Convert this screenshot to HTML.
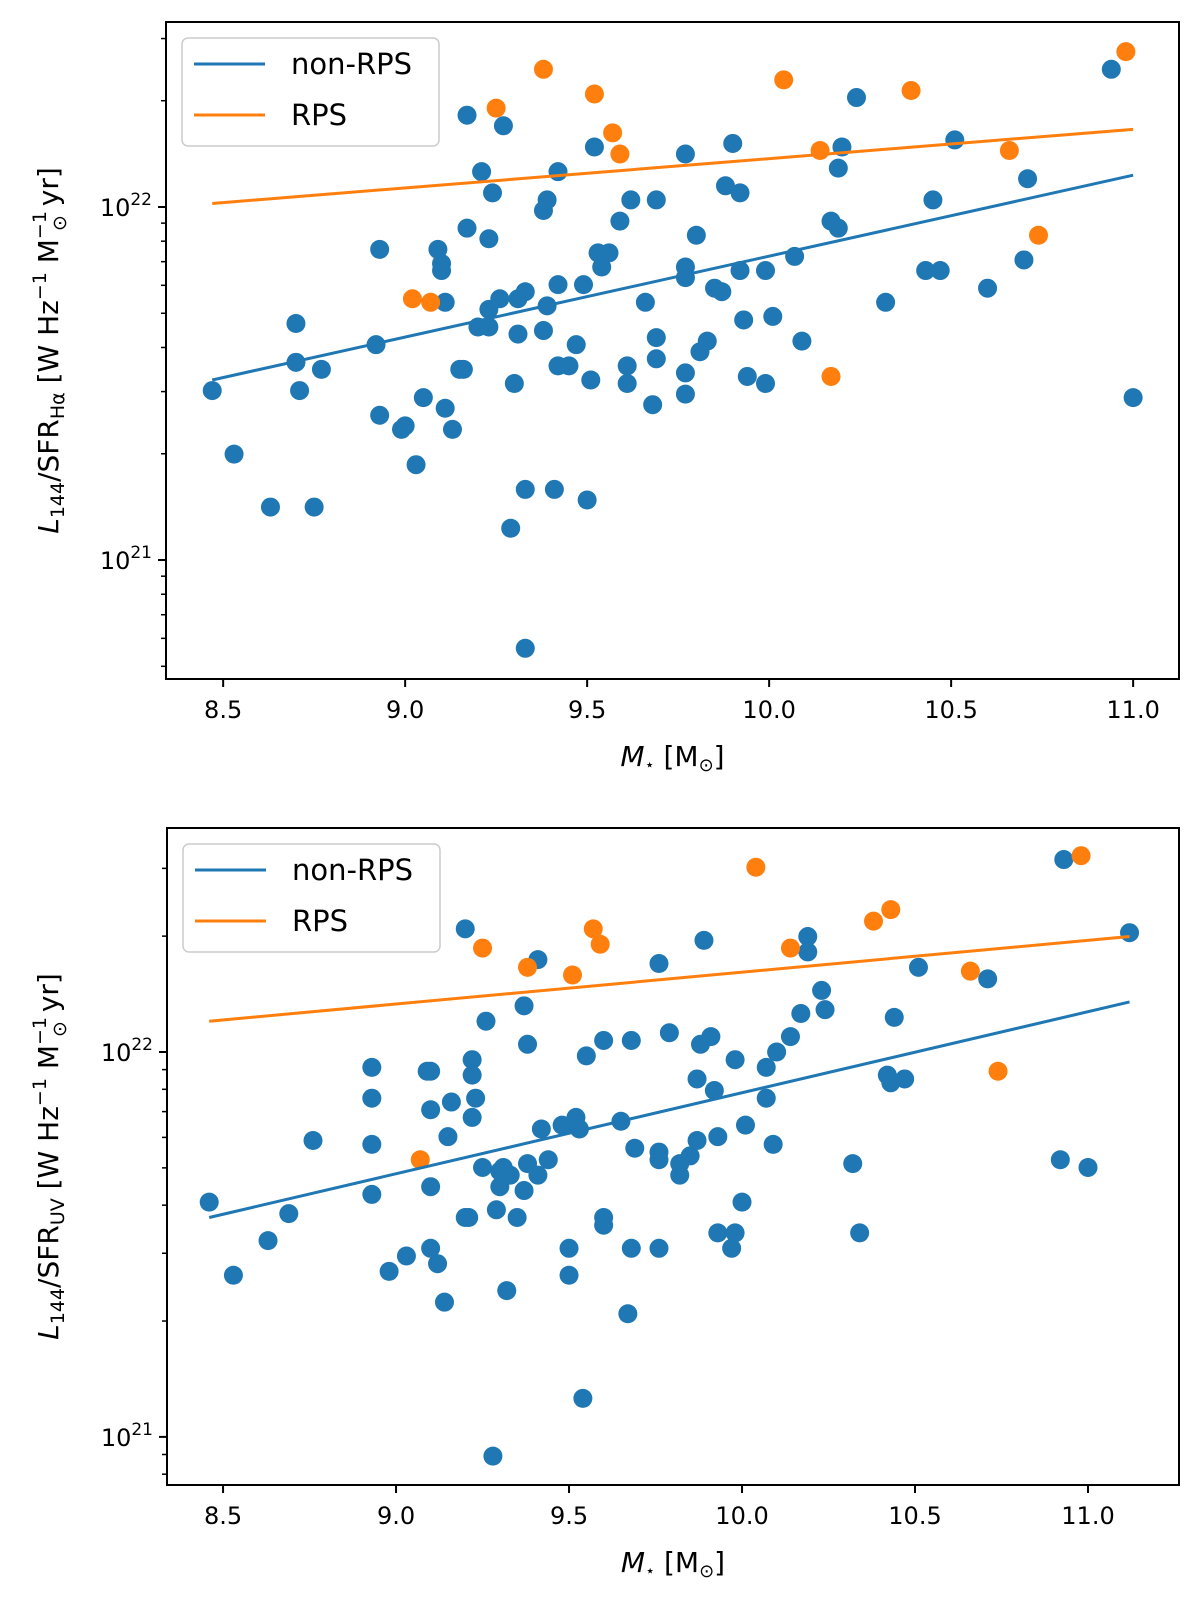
<!DOCTYPE html>
<html><head><meta charset="utf-8"><style>
html,body{margin:0;padding:0;background:#fff;}
svg text{font-family:"DejaVu Sans","Liberation Sans",sans-serif;fill:#000;}
</style></head><body>
<svg id="fig" width="1200" height="1607" viewBox="0 0 1200 1607" xmlns="http://www.w3.org/2000/svg"></svg>
<script>
// ---- Panel A (Halpha) data: stellar mass (log Msun) and log10(L144/SFR)
const aBlueMass=[8.47,8.53,8.63,8.75,8.70,8.70,8.71,8.77,8.93,8.92,8.93,8.99,9.00,9.03,9.05,9.09,9.10,9.10,9.11,9.11,9.13,9.15,9.16,9.17,9.17,9.20,9.21,9.23,9.23,9.23,9.24,9.26,9.27,9.30,9.29,9.31,9.31,9.33,9.33,9.33,9.38,9.39,9.39,9.38,9.41,9.42,9.42,9.42,9.45,9.47,9.49,9.50,9.51,9.52,9.53,9.54,9.56,9.59,9.61,9.61,9.62,9.66,9.68,9.69,9.69,9.69,9.77,9.77,9.77,9.77,9.77,9.80,9.81,9.83,9.85,9.87,9.88,9.90,9.92,9.92,9.93,9.94,9.99,9.99,10.01,10.07,10.09,10.17,10.19,10.19,10.20,10.24,10.32,10.43,10.45,10.47,10.51,10.60,10.70,10.71,10.94,11.00];
const aBlueLog=[21.48,21.30,21.15,21.15,21.67,21.56,21.48,21.54,21.88,21.61,21.41,21.37,21.38,21.27,21.46,21.88,21.84,21.82,21.73,21.43,21.37,21.54,21.54,22.26,21.94,21.66,22.10,21.91,21.71,21.66,22.04,21.74,22.23,21.50,21.09,21.64,21.74,21.76,20.75,21.20,21.99,22.02,21.72,21.65,21.20,22.10,21.78,21.55,21.55,21.61,21.78,21.17,21.51,22.17,21.87,21.83,21.87,21.96,21.55,21.50,22.02,21.73,21.44,21.63,21.57,22.02,22.15,21.83,21.80,21.53,21.47,21.92,21.59,21.62,21.77,21.76,22.06,22.18,22.04,21.82,21.68,21.52,21.82,21.50,21.69,21.86,21.62,21.96,21.94,22.11,22.17,22.31,21.73,21.82,22.02,21.82,22.19,21.77,21.85,22.08,22.39,21.46];
const aOrangeMass=[9.25,9.38,9.52,9.57,9.59,9.02,9.07,10.04,10.14,10.17,10.39,10.66,10.74,10.98];
const aOrangeLog=[22.28,22.39,22.32,22.21,22.15,21.74,21.73,22.36,22.16,21.52,22.33,22.16,21.92,22.44];
const aBlueFit=[8.47,21.51,11.00,22.09];
const aOrangeFit=[8.47,22.01,11.00,22.22];
// ---- Panel B (UV) data
const bBlueMass=[8.46,8.53,8.63,8.69,8.76,8.93,8.93,8.93,8.93,8.98,9.03,9.09,9.10,9.10,9.10,9.10,9.12,9.14,9.15,9.16,9.20,9.20,9.21,9.22,9.22,9.22,9.23,9.26,9.25,9.29,9.30,9.30,9.31,9.32,9.33,9.35,9.37,9.37,9.38,9.38,9.41,9.41,9.42,9.44,9.48,9.50,9.50,9.52,9.52,9.53,9.54,9.55,9.60,9.60,9.60,9.65,9.67,9.68,9.69,9.68,9.76,9.76,9.76,9.76,9.79,9.82,9.82,9.85,9.87,9.87,9.88,9.89,9.91,9.92,9.93,9.93,9.97,9.98,9.98,10.00,10.01,10.07,10.07,10.09,10.10,10.14,10.17,10.19,10.19,10.23,10.24,10.32,10.34,10.42,10.43,10.47,10.44,10.51,10.71,10.92,10.93,11.00,11.12,9.28];
const bBlueLog=[21.61,21.42,21.51,21.58,21.77,21.76,21.96,21.88,21.63,21.43,21.47,21.95,21.95,21.85,21.65,21.49,21.45,21.35,21.78,21.87,21.57,22.32,21.57,21.98,21.94,21.83,21.88,22.08,21.70,21.59,21.69,21.65,21.70,21.38,21.68,21.57,21.64,22.12,21.71,22.02,22.24,21.68,21.80,21.72,21.81,21.42,21.49,21.83,21.81,21.80,21.10,21.99,22.03,21.57,21.55,21.82,21.32,22.03,21.75,21.49,22.23,21.74,21.72,21.49,22.05,21.71,21.68,21.73,21.93,21.77,22.02,22.29,22.04,21.90,21.78,21.53,21.49,21.98,21.53,21.61,21.81,21.96,21.88,21.76,22.00,22.04,22.10,22.30,22.26,22.16,22.11,21.71,21.53,21.94,21.92,21.93,22.09,22.22,22.19,21.72,22.50,21.70,22.31,20.95];
const bOrangeMass=[9.25,9.07,9.38,9.51,9.57,9.59,10.04,10.14,10.38,10.43,10.66,10.74,10.98];
const bOrangeLog=[22.27,21.72,22.22,22.20,22.32,22.28,22.48,22.27,22.34,22.37,22.21,21.95,22.51];
const bBlueFit=[8.46,21.57,11.12,22.13];
const bOrangeFit=[8.46,22.08,11.12,22.30];
const xTicks=[8.5,9.0,9.5,10.0,10.5,11.0];
const xTickLabels=["8.5","9.0","9.5","10.0","10.5","11.0"];
const yMajor=[21,22];
const yMajorLabels=["21","22"];

const NS="http://www.w3.org/2000/svg";
const svg=document.getElementById('fig');
function mk(tag,attrs,parent){const e=document.createElementNS(NS,tag);for(const k in attrs)e.setAttribute(k,attrs[k]);(parent||svg).appendChild(e);return e;}
const BLUE="#1f77b4",ORANGE="#ff7f0e";

function panel(p){
  const g=mk('g',{});
  
  
  const L=p.box[0],T=p.box[1],R=p.box[2],B=p.box[3];
  const sx=v=>L+(v-p.xlim[0])/(p.xlim[1]-p.xlim[0])*(R-L);
  const sy=v=>B-(v-p.ylim[0])/(p.ylim[1]-p.ylim[0])*(B-T);
  const fits=[[p.blueFit,BLUE,'non-rps-fit-line'],[p.orangeFit,ORANGE,'rps-fit-line']];
  const drawPts=(xs,ys,c,nm)=>{const gg=mk('g',{},g);
    
    
    for(let i=0;i<xs.length;i++){const c0=mk('circle',{cx:sx(xs[i]),cy:sy(ys[i]),r:9.5,fill:c},gg);
      
      }};
  drawPts(p.blueX,p.blueY,BLUE,'non-rps-points');
  drawPts(p.orX,p.orY,ORANGE,'rps-points');
  for(const [f,c,nm] of fits){const l=mk('line',{x1:sx(f[0]),y1:sy(f[1]),x2:sx(f[2]),y2:sy(f[3]),stroke:c,'stroke-width':3},g);
    
    }
  const fr=mk('rect',{x:L,y:T,width:R-L,height:B-T,fill:'none',stroke:'#000','stroke-width':2},g);
  
  
  xTicks.forEach((v,i)=>{const x=sx(v);mk('line',{x1:x,y1:B,x2:x,y2:B+8,stroke:'#000','stroke-width':2},g);
    const t=mk('text',{x:x,y:B+39,'font-size':24,'text-anchor':'middle'},g);t.textContent=xTickLabels[i];
    
    });
  yMajor.forEach((v,i)=>{const y=sy(v);mk('line',{x1:L-8,y1:y,x2:L,y2:y,stroke:'#000','stroke-width':2},g);
    const t=mk('text',{x:L-14,y:y+9,'font-size':24,'text-anchor':'end'},g);
    t.innerHTML='10<tspan dy="-11" font-size="17">'+yMajorLabels[i]+'</tspan>';
    
    });
  for(let d=20;d<=22;d++)for(let m=2;m<=9;m++){const lv=d+Math.log10(m);if(lv<p.ylim[0]||lv>p.ylim[1])continue;
    const y=sy(lv);mk('line',{x1:L-5,y1:y,x2:L,y2:y,stroke:'#000','stroke-width':1.5},g);}
  const xl=mk('text',{x:(L+R)/2,y:B+87,'font-size':28,'text-anchor':'middle'},g);
  xl.innerHTML='<tspan font-style="italic">M</tspan><tspan font-size="16" dy="4">⋆</tspan><tspan dy="-4"> [M</tspan><tspan font-size="18" dy="5">⊙</tspan><tspan dy="-5">]</tspan>';
  
  
  const cy=(T+B)/2;
  const yl=mk('text',{x:0,y:0,'font-size':28,'text-anchor':'middle',transform:'translate(58,'+cy+') rotate(-90)'},g);
  yl.innerHTML='<tspan font-style="italic">L</tspan><tspan font-size="19" dy="6">144</tspan><tspan dy="-6">/SFR</tspan><tspan font-size="19" dy="6">'+p.sub+'</tspan><tspan dy="-6"> [W Hz</tspan><tspan font-size="19" dy="-12">−1</tspan><tspan dy="12"> M</tspan><tspan font-size="19" dy="-12">−1</tspan><tspan font-size="19" dx="-20" dy="20">⊙</tspan><tspan dy="-8"> yr]</tspan>';
  
  
  const lg=mk('g',{},g);
  
  
  mk('rect',{x:L+16,y:T+16,width:257,height:108,rx:6,fill:'#fff','fill-opacity':0.8,stroke:'#ccc','stroke-width':1.5},lg);
  [['non-RPS',BLUE,42],['RPS',ORANGE,93]].forEach(([lab,c,dy])=>{
    mk('line',{x1:L+28,y1:T+dy,x2:L+99,y2:T+dy,stroke:c,'stroke-width':3},lg);
    const t=mk('text',{x:L+125,y:T+dy+10,'font-size':29},lg);t.textContent=lab;
    
    });
}
panel({name:'halpha-panel',box:[166,22,1179,679],xlim:[8.343,11.126],ylim:[20.663,22.524],sub:'Hα',
  blueX:aBlueMass,blueY:aBlueLog,orX:aOrangeMass,orY:aOrangeLog,blueFit:aBlueFit,orangeFit:aOrangeFit});
panel({name:'uv-panel',box:[167,828,1179,1485],xlim:[8.338,11.263],ylim:[20.875,22.582],sub:'UV',
  blueX:bBlueMass,blueY:bBlueLog,orX:bOrangeMass,orY:bOrangeLog,blueFit:bBlueFit,orangeFit:bOrangeFit});
</script>
</body></html>
